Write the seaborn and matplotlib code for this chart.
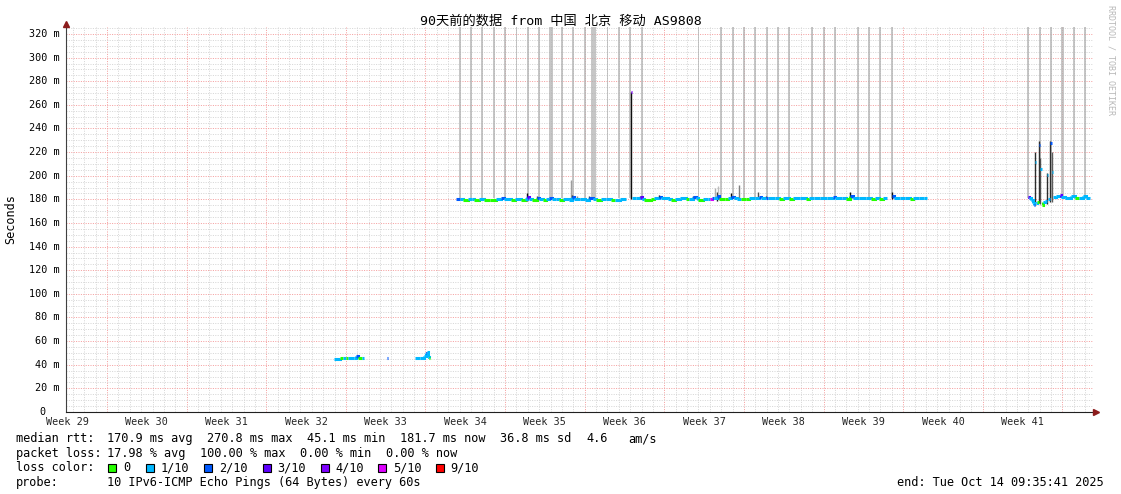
import numpy as np
import pandas as pd
import matplotlib
matplotlib.use("Agg")
import matplotlib.pyplot as plt
import matplotlib.transforms as mtransforms
from matplotlib.collections import LineCollection
from matplotlib.patches import Rectangle
import seaborn as sns

# ------------------------------------------------------------------ data
TITLE = "90天前的数据 from 中国 北京 移动 AS9808"
START = pd.Timestamp("2025-07-16 09:35:41")
END = pd.Timestamp("2025-10-14 09:35:41")

week_labels = ["Week 29", "Week 30", "Week 31", "Week 32", "Week 33", "Week 34", "Week 35",
               "Week 36", "Week 37", "Week 38", "Week 39", "Week 40", "Week 41"]
week_first_sunday = "2025-07-13"

# median rtt (ms), time in days since START, NaN = no data after that point
med_t = [
    23.57, 24.09, 24.36, 24.62, 24.80, 25.33, 25.50, 25.68, 26.03, 26.21,
    28.22, 28.31,
    30.69, 31.13, 31.43, 31.61, 31.70, 31.79, 31.87, 32.01,
    34.30, 34.60, 34.90, 35.30, 35.70, 35.90, 36.30, 36.70, 37.30, 37.80,
    38.20, 38.50, 39.10, 39.50, 40.00, 40.35, 40.55, 40.70, 41.00, 41.40,
    41.60, 41.90, 42.20, 42.45, 42.70, 43.10, 43.30, 43.70, 44.20, 44.50,
    44.70, 45.20, 45.60, 46.00, 46.30, 46.60, 47.00, 47.50, 47.90, 48.30,
    48.70, 49.20,
    49.64, 49.72,
    49.75, 50.10, 50.45, 50.65, 50.85, 51.40, 51.70, 52.10, 52.30, 52.90,
    53.20, 53.50, 54.00, 54.50, 54.80, 55.15, 55.35, 55.60, 56.00, 56.45,
    56.60, 56.75, 57.00, 57.20, 57.45, 57.90, 58.20, 58.50, 58.70, 59.00,
    59.30, 59.75, 60.00, 60.60, 60.90, 61.10, 61.50, 61.70, 62.30, 62.65,
    63.00, 63.60, 63.90, 64.50, 65.05, 65.30, 65.80, 66.30, 66.90, 67.40,
    67.60, 68.20, 68.60, 68.95, 69.15, 69.70, 70.30, 70.80, 71.10, 71.45,
    71.80, 72.17,
    72.61, 72.80, 73.30, 73.80, 74.20, 74.50, 75.00, 75.40, 75.70,
    84.54, 84.69, 84.82, 84.98, 85.07, 85.17, 85.24, 85.35, 85.50, 85.65,
    85.78, 85.92, 86.05, 86.23, 86.36, 86.54, 86.65, 86.76, 87.06, 87.35,
    87.46, 87.85, 88.35, 88.73, 89.04, 89.44, 89.71, 90.00,
]
nan = np.nan
med_v = [
    45.0, 45.3, 45.4, 45.5, 45.6, 46.0, 47.6, 45.8, 45.4, nan,
    45.4, nan,
    45.8, 46.0, 47.5, 50.0, 51.0, 46.5, 45.6, nan,
    180.3, 180.0, 179.3, 180.0, 180.3, 179.5, 180.2, 179.6, 179.5, 180.4,
    181.0, 180.3, 179.7, 180.5, 179.6, 180.3, 182.0, 180.4, 179.5, 181.5,
    180.2, 179.6, 180.6, 181.5, 180.0, 180.4, 179.5, 180.2, 179.8, 181.8,
    180.0, 180.3, 179.8, 181.2, 180.2, 179.5, 180.0, 180.3, 179.6, 179.8,
    180.0, nan,
    271.0, nan,
    180.8, 181.0, 181.8, 180.5, 179.8, 180.0, 180.8, 182.0, 180.8, 180.5,
    179.8, 180.6, 180.8, 180.0, 180.7, 181.8, 180.8, 179.8, 180.5, 180.2,
    180.0, 181.0, 181.2, 182.5, 180.0, 180.3, 180.8, 182.3, 181.0, 180.5,
    180.0, 180.4, 181.0, 181.0, 182.0, 181.0, 181.5, 181.0, 181.2, 180.3,
    181.0, 180.5, 181.0, 181.2, 180.5, 181.0, 181.3, 181.0, 181.2, 181.7,
    181.0, 181.2, 180.5, 182.5, 181.0, 181.2, 181.0, 180.5, 181.0, 180.3,
    180.8, nan,
    182.5, 181.0, 181.3, 181.0, 180.5, 181.2, 181.5, 181.2, nan,
    182.3, 181.0, 179.5, 176.7, 175.2, 212.0, 177.0, 178.0, 226.0, 206.0,
    175.0, 177.5, 178.5, 201.0, 180.0, 227.5, 203.5, 182.3, 182.5, 183.5,
    182.0, 181.0, 183.0, 181.0, 181.5, 182.8, 181.5, nan,
]
# pings lost out of 10 for each median point
med_loss = [
    1, 0, 1, 0, 1, 1, 2, 0, 1, 0,
    2, 0,
    1, 1, 1, 2, 1, 1, 0, 0,
    2, 1, 0, 1, 1, 0, 1, 0, 0, 1,
    2, 1, 0, 1, 0, 1, 3, 1, 0, 2,
    1, 0, 1, 2, 1, 1, 0, 1, 1, 2,
    1, 1, 1, 2, 1, 0, 1, 1, 0, 1,
    1, 0,
    4, 0,
    1, 1, 3, 1, 0, 0, 1, 2, 1, 1,
    0, 1, 1, 0, 1, 2, 1, 0, 1, 1,
    5, 2, 1, 2, 0, 0, 1, 2, 1, 1,
    0, 0, 1, 1, 2, 1, 2, 1, 1, 0,
    1, 0, 1, 1, 0, 1, 1, 1, 1, 2,
    1, 1, 0, 2, 1, 1, 1, 0, 1, 0,
    1, 0,
    2, 1, 1, 1, 0, 1, 1, 1, 0,
    3, 1, 1, 1, 2, 1, 1, 0, 2, 1,
    0, 1, 1, 1, 1, 2, 1, 1, 1, 3,
    1, 1, 1, 0, 1, 1, 1, 0,
]

# smoke (spread of the 10 pings) for the visible spikes
smoke_t = [40.55, 41.40, 44.41, 44.50, 44.90, 46.00, 49.64, 50.45, 52.10, 55.15,
           57.05, 57.20, 57.34, 58.50, 59.20, 60.85, 61.50, 68.95, 72.61,
           85.17, 85.50, 85.62, 86.23, 86.54, 86.65]
smoke_lo = [179, 180, 181, 180, 180, 180, 180, 180, 180, 180,
            180, 179, 180, 180, 181, 180, 181, 180, 180,
            175, 177, 176, 176, 178, 178]
smoke_hi = [185, 183, 196, 184, 183, 183, 271, 183, 184, 183,
            189.6, 186.5, 191, 185, 192, 186, 183, 186, 186.5,
            220, 229, 215, 202, 229, 220]
smoke_density = [1.0, 0.8, 0.4, 0.87, 0.47, 0.8, 1.0, 0.8, 1.0, 0.8,
                 0.33, 0.93, 0.27, 1.0, 0.53, 0.73, 0.8, 1.0, 1.0,
                 0.87, 0.87, 0.73, 0.87, 0.87, 0.67]

# periods where some pings ran off the top of the scale (centre, duration in hours)
burst_center = ["2025-08-20 00:00", "2025-08-21 00:00", "2025-08-22 00:00", "2025-08-23 00:00",
                "2025-08-24 00:00", "2025-08-25 00:00", "2025-08-26 00:00", "2025-08-27 00:00",
                "2025-08-28 00:00", "2025-08-29 00:00", "2025-08-30 00:00", "2025-08-31 00:00",
                "2025-08-31 19:00", "2025-09-02 00:00", "2025-09-03 00:00", "2025-09-04 00:00",
                "2025-09-05 00:00", "2025-09-10 00:00", "2025-09-12 00:00", "2025-09-13 00:00",
                "2025-09-14 00:00", "2025-09-15 00:00", "2025-09-16 00:00", "2025-09-17 00:00",
                "2025-09-18 00:00", "2025-09-20 00:00", "2025-09-21 00:00", "2025-09-22 00:00",
                "2025-09-24 00:00", "2025-09-25 00:00", "2025-09-26 00:00", "2025-09-27 00:00",
                "2025-10-09 00:00", "2025-10-10 00:00", "2025-10-11 00:00", "2025-10-12 00:00",
                "2025-10-13 00:00", "2025-10-14 00:00"]
burst_hours = [4, 4, 4, 4, 4, 4, 4, 4, 8, 4, 4, 4, 10, 4, 4, 4, 4, 4, 4, 4,
               4, 4, 4, 4, 4, 4, 4, 4, 4, 4, 4, 4, 4, 4, 4, 8, 4, 4]
burst_from = 181.0

loss_levels = [0, 1, 2, 3, 4, 5, 9]
loss_names = ["0", "1/10", "2/10", "3/10", "4/10", "5/10", "9/10"]
loss_colors = ["#26ff00", "#00b8ff", "#0059ff", "#5e00ff", "#7e00ff", "#dd00ff", "#ff0000"]

stats_rtt = ["170.9 ms avg", "270.8 ms max", "45.1 ms min", "181.7 ms now", "36.8 ms sd", "4.6", "am/s"]
stats_loss = ["17.98 % avg", "100.00 % max", "0.00 % min", "0.00 % now"]
probe_text = "10 IPv6-ICMP Echo Pings (64 Bytes) every 60s"

# ------------------------------------------------------------------ style
sns.set_theme(style="white")
MONO = ["DejaVu Sans Mono", "Noto Sans CJK SC"]
plt.rcParams["font.family"] = MONO
plt.rcParams["text.color"] = "black"

W, H = 1121, 494
DPI = 100
fig = plt.figure(figsize=(W / DPI, H / DPI), dpi=DPI)
fig.patch.set_facecolor("white")

px = 1 / DPI  # inches per pixel
L, R, T, B = 66.1, 1093.0, 27.0, 412.0
ax = fig.add_axes([L / W, (H - B) / H, (R - L) / W, (B - T) / H])
ax.set_facecolor("white")

def days(ts):
    return (pd.to_datetime(ts) - START) / pd.Timedelta(days=1)

span_days = (END - START) / pd.Timedelta(days=1)
xmax = span_days * (R - L) / (R - L - 3.3)
ax.set_xlim(0, xmax)
ax.set_ylim(0, 325.9)

# grid
sundays = pd.date_range(week_first_sunday, END, freq="7D")
sunday_t = days(sundays)
sunday_t = sunday_t[(sunday_t > 0)]
day_t = days(pd.date_range(week_first_sunday, END, freq="D"))
day_t = day_t[day_t > 0]
ax.set_xticks(sunday_t)
ax.set_xticks(day_t, minor=True)
ax.set_yticks(np.arange(0, 321, 20))
ax.set_yticks(np.arange(0, 326, 5), minor=True)
dot = (0, (1, 1.4))
ax.grid(which="minor", color="#d6d6d6", linestyle=dot, linewidth=0.72)
ax.grid(which="major", color="#f5a0a0", linestyle=dot, linewidth=0.72)
ax.set_axisbelow(True)
ax.tick_params(axis="x", which="major", length=3, color="#e07070", width=0.72,
               direction="out", labelbottom=False)
ax.tick_params(axis="x", which="minor", length=2, color="#c8c8c8", width=0.72,
               direction="out")
ax.tick_params(axis="y", which="major", length=3, color="#909090", width=0.72,
               direction="out", labelleft=False)
ax.tick_params(axis="y", which="minor", length=0)

for s in ["top", "right"]:
    ax.spines[s].set_visible(False)
ax.spines["left"].set_color("#404040")
ax.spines["bottom"].set_color("#202020")
ax.spines["left"].set_linewidth(0.8)
ax.spines["bottom"].set_linewidth(0.8)

# bursts (grey columns)
bt = days(burst_center)
ax.bar(bt, 400 - burst_from, bottom=burst_from, width=np.array(burst_hours) / 24.0,
       color="#b0b0b0", alpha=0.72, linewidth=0, zorder=1.5)

# smoke spikes
shade = [str(round(1 - d * 0.95, 3)) for d in smoke_density]
ax.vlines(smoke_t, smoke_lo, smoke_hi, colors=shade, linewidth=1.0, zorder=2)

# median line, coloured by loss (step segments)
cmap = dict(zip(loss_levels, loss_colors))
segs, cols = [], []
for i in range(len(med_t) - 1):
    v = med_v[i]
    if np.isnan(v):
        continue
    t0, t1 = med_t[i], med_t[i + 1]
    v1 = med_v[i + 1]
    path = [(t0, v), (t1, v)]
    if not np.isnan(v1) and abs(v1 - v) < 6:
        path.append((t1, v1))
    segs.append(path)
    cols.append(cmap[med_loss[i]])
lc = LineCollection(segs, colors=cols, linewidths=2.2, capstyle="butt",
                    joinstyle="miter", zorder=3)
ax.add_collection(lc)

# axis arrows
arrow_c = "#8c1c1c"
ax.plot([0, 0], [1, 1.012], transform=ax.transAxes, clip_on=False, color="#404040", lw=0.8)
ax.plot([0], [1.009], marker="^", ms=4.6, color=arrow_c, transform=ax.transAxes,
        clip_on=False, zorder=5)
ax.plot([1, 1.003], [0, 0], transform=ax.transAxes, clip_on=False, color="#202020", lw=0.8)
ax.plot([1.0025], [0], marker=">", ms=4.6, color=arrow_c, transform=ax.transAxes,
        clip_on=False, zorder=5)

# y tick labels
AX_FS = 7.3
ytrans = ax.get_yaxis_transform()
for v in np.arange(0, 321, 20):
    lab = f"{v} m" if v else "0"
    off = -6.5 if v else -20.5
    ax.text(0, v, lab, transform=ytrans + mtransforms.ScaledTranslation(off * px, 0, fig.dpi_scale_trans),
            ha="right", va="center", fontsize=AX_FS, family=MONO)

# week labels
sec = ax.secondary_xaxis("bottom")
week_mid = days(pd.date_range(week_first_sunday, periods=len(week_labels), freq="7D")
                + pd.Timedelta(hours=84))
sec.set_xticks(week_mid)
sec.set_xticklabels(week_labels, fontsize=AX_FS, family=MONO)
sec.tick_params(length=0, pad=3.6)
sec.spines["bottom"].set_visible(False)

# titles and side texts
fig.text(0.5, 1 - 21.5 / H, TITLE, ha="center", va="center", fontsize=9.5, family=MONO)
fig.text(11 / W, 1 - 219.5 / H, "Seconds", rotation=90, ha="center", va="center",
         fontsize=8.5, family=MONO)
fig.text(1111.5 / W, 1 - 60 / H, "RRDTOOL / TOBI OETIKER", rotation=270, ha="center",
         va="center", fontsize=6.0, family=MONO, color="#b8b8b8")

# legend block
LF = 8.6
def ftext(x, y, s, **kw):
    fig.text(x / W, 1 - y / H, s, ha=kw.pop("ha", "left"), va="center", fontsize=LF,
             family=MONO, **kw)

row1, row2, row3, row4 = 438.5, 453.0, 467.5, 482.0
ftext(16, row1, "median rtt:")
for x, s in zip([107, 207, 307, 400.5, 500, 586, 628], stats_rtt):
    ftext(x, row1, s)
ftext(16, row2, "packet loss:")
for x, s in zip([107, 200, 300, 386], stats_loss):
    ftext(x, row2, s)
ftext(16, row3, "loss color:")
sq_x = [108, 146, 204, 262.5, 320.7, 378, 435.7]
for x, c, name in zip(sq_x, loss_colors, loss_names):
    fig.patches.append(Rectangle((x / W, 1 - (row3 + 4) / H), 8 / W, 8 / H,
                                 transform=fig.transFigure, facecolor=c,
                                 edgecolor="black", linewidth=0.8))
    ftext(x + 15, row3, name)
ftext(16, row4, "probe:")
ftext(107, row4, probe_text)
ftext(1104, row4, "end: " + END.strftime("%a %b %d %H:%M:%S %Y"), ha="right")

fig.savefig("out.png", dpi=DPI, facecolor="white")
